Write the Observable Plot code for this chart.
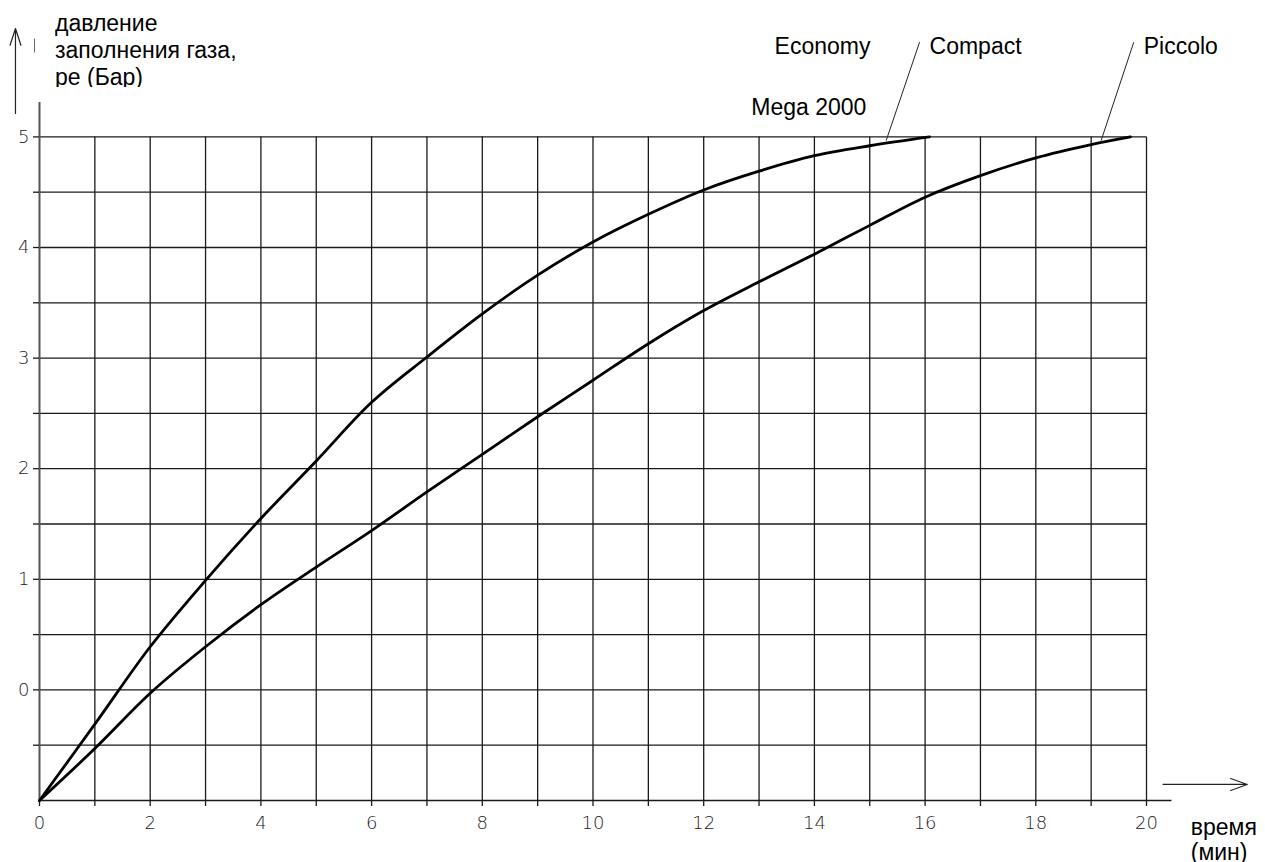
<!DOCTYPE html>
<html>
<head>
<meta charset="utf-8">
<script src="https://cdn.jsdelivr.net/npm/d3@7"></script>
<script src="https://cdn.jsdelivr.net/npm/@observablehq/plot@0.6"></script>
<style>
html, body { margin: 0; padding: 0; overflow: hidden; background: #fff; }
#wrap { position: relative; width: 1265px; height: 862px; }
#ylab { position: absolute; left: 55px; top: 9.5px; height: 77px; overflow: hidden;
  font: 23px "Liberation Sans", Arial, sans-serif; line-height: 27px; white-space: pre; color: #000; }
</style>
</head>
<body>
<div id="wrap"><div id="ylab"></div></div>
<script>
// ---- data ----
const seriesNames = ["Economy / Compact / Mega 2000", "Piccolo"];
const timeUpper = [0, 1, 2, 3, 4, 5, 6, 7, 8, 9, 10, 11, 12, 13, 14, 15, 16.08];
const pressureUpper = [-1, -0.31, 0.39, 0.99, 1.55, 2.07, 2.60, 3.01, 3.40, 3.75, 4.05, 4.30, 4.52, 4.69, 4.83, 4.92, 5.0];
const timeLower = [0, 1, 2, 3, 4, 5, 6, 7, 8, 9, 10, 11, 12, 13, 14, 15, 16, 17, 18, 19, 19.71];
const pressureLower = [-1, -0.53, -0.03, 0.39, 0.77, 1.11, 1.44, 1.79, 2.13, 2.47, 2.80, 3.13, 3.43, 3.69, 3.94, 4.20, 4.455, 4.65, 4.81, 4.93, 5.0];
const xTicks = [0,1,2,3,4,5,6,7,8,9,10,11,12,13,14,15,16,17,18,19,20];
const xTickLabels = ["0","","2","","4","","6","","8","","10","","12","","14","","16","","18","","20"];
const yTicks = [-0.5, 0, 0.5, 1, 1.5, 2, 2.5, 3, 3.5, 4, 4.5, 5];
const yTickLabels = ["", "0", "", "1", "", "2", "", "3", "", "4", "", "5"];
const curveLabels = ["Economy", "Compact", "Piccolo", "Mega 2000"];
const yTitle = ["давление", "заполнения газа,", "ре (Бар)"];
const xTitle = ["время", "(мин)"];

// ---- build tables ----
const lines = [
  ...timeUpper.map((t, i) => ({series: seriesNames[0], t, p: pressureUpper[i]})),
  ...timeLower.map((t, i) => ({series: seriesNames[1], t, p: pressureLower[i]}))
];
// annotation placement (data coordinates)
const labelPos = [
  {text: curveLabels[0], x: 13.28, y: 5.751},
  {text: curveLabels[1], x: 16.08, y: 5.751},
  {text: curveLabels[2], x: 19.95, y: 5.751},
  {text: curveLabels[3], x: 12.86, y: 5.200}
];
const leaders = [
  {x1: 15.90, y1: 5.856, x2: 15.297, y2: 4.967},
  {x1: 19.77, y1: 5.856, x2: 19.18, y2: 4.967}
];

const gridColor = "#1a1a1a";
const font = "'Liberation Sans', Arial, sans-serif";
const tickFont = "'DejaVu Sans', sans-serif";

const chart = Plot.plot({
  width: 1265,
  height: 862,
  marginLeft: 39,
  marginRight: 119,
  marginTop: 136.4,
  marginBottom: 62,
  x: {domain: [0, 20]},
  y: {domain: [-1, 5]},
  style: {fontFamily: font, background: "#fff", overflow: "visible"},
  marks: [
    // grid
    Plot.ruleX(xTicks.slice(1), {y1: -1, y2: 5, stroke: gridColor, strokeWidth: 1.3}),
    Plot.ruleY(yTicks, {x1: 0, x2: 20, stroke: gridColor, strokeWidth: 1.3}),
    // baseline extended to the right
    Plot.ruleY([-1], {x1: 0, x2: 20.46, stroke: gridColor, strokeWidth: 1.3}),
    // y axis line
    Plot.ruleX([0], {y1: -1, y2: 5.311, stroke: "#555", strokeWidth: 2}),
    // axes
    Plot.axisX(xTicks, {
      tickSize: 6, tickPadding: 10, fontSize: 18, fontWeight: 200, fontFamily: tickFont,
      stroke: gridColor, strokeWidth: 1.3, fill: "#222",
      tickFormat: d => xTickLabels[xTicks.indexOf(d)]
    }),
    Plot.axisY(yTicks, {
      tickSize: 6, tickPadding: 4, fontSize: 18, fontWeight: 200, fontFamily: tickFont,
      stroke: gridColor, strokeWidth: 1.3, fill: "#222",
      tickFormat: d => yTickLabels[yTicks.indexOf(d)]
    }),
    // curves
    Plot.line(lines, {x: "t", y: "p", z: "series", curve: "catmull-rom", stroke: "#000", strokeWidth: 2.8}),
    // leader lines
    Plot.link(leaders, {x1: "x1", y1: "y1", x2: "x2", y2: "y2", stroke: "#222", strokeWidth: 1, clip: false}),
    // curve labels
    Plot.text(labelPos, {x: "x", y: "y", text: "text", textAnchor: "start", lineAnchor: "bottom",
      fontSize: 23, fill: "#000", fontFamily: font}),
    // axis arrows
    Plot.arrow([{x1: -0.434, y1: 5.212, x2: -0.434, y2: 5.98}], {x1: "x1", y1: "y1", x2: "x2", y2: "y2",
      stroke: "#222", strokeWidth: 1.2, headLength: 22, headAngle: 36}),
    Plot.arrow([{x1: 20.30, y1: -0.855, x2: 21.82, y2: -0.855}], {x1: "x1", y1: "y1", x2: "x2", y2: "y2",
      stroke: "#222", strokeWidth: 1.2, headLength: 22, headAngle: 40}),
    // small stray mark near the y arrow
    Plot.link([{x1: -0.09, y1: 5.763, x2: -0.09, y2: 5.89}], {x1: "x1", y1: "y1", x2: "x2", y2: "y2",
      stroke: "#666", strokeWidth: 1}),
    // x title
    Plot.text([xTitle.join("\n")], {x: 20.80, y: -1.542, text: d => d, textAnchor: "start",
      lineAnchor: "bottom", lineHeight: 25 / 23, fontSize: 23, fill: "#000", fontFamily: font})
  ]
});

const wrap = document.getElementById("wrap");
const ylab = document.getElementById("ylab");
ylab.textContent = yTitle.join("\n");
wrap.insertBefore(chart, ylab);
</script>
</body>
</html>
